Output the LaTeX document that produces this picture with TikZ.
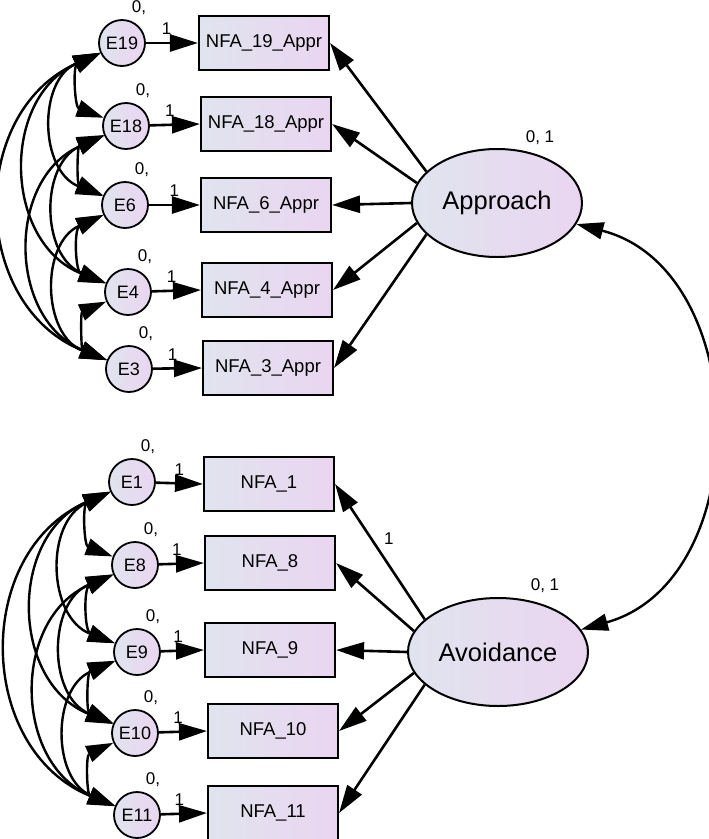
\documentclass[tikz,border=0pt]{standalone}
\usepackage{fontspec}
\setmainfont{Liberation Sans}
\usepackage{tikz}
\usetikzlibrary{positioning}
\usetikzlibrary{shapes}
\usetikzlibrary{arrows.meta}

\definecolor{shadeleft}{HTML}{E0E4EE}
\definecolor{shaderight}{HTML}{EAD5F1}

\begin{document}
\begin{tikzpicture}[x=1pt, y=-1pt,
	errnode/.style={circle, draw, line width=1.8pt, minimum size=46pt, inner sep=0pt, left color=shadeleft, right color=shaderight, font=\fontsize{18}{20}\selectfont},
	itembox/.style={rectangle, draw, line width=2.1pt, minimum width=130pt, minimum height=54pt, inner sep=0pt, left color=shadeleft, right color=shaderight, font=\fontsize{18.5}{21}\selectfont},
	latent/.style={ellipse, draw, line width=2pt, minimum height=108pt, inner sep=0pt, left color=shadeleft, right color=shaderight, font=\fontsize{25.5}{29}\selectfont},
	lbl/.style={font=\fontsize{17}{19}\selectfont, inner sep=1pt},
	regarrow/.style={line width=2.6pt, -{Triangle[length=28pt,width=17pt]}},
	covarc/.style={line width=2.4pt, {Triangle[length=27pt,width=17pt]}-{Triangle[length=27pt,width=17pt]}},
	errcov/.style={covarc, bend right=67, looseness=1.22}
	]
	\useasboundingbox (0,0) rectangle (709,839);

	\node[errnode] (E19) at (122,43) {E19};
	\node[errnode] (E18) at (126,126) {E18};
	\node[errnode] (E6) at (125,205) {E6};
	\node[errnode] (E4) at (128,292) {E4};
	\node[errnode] (E3) at (129,369) {E3};
	\node[errnode] (E1) at (132,482) {E1};
	\node[errnode] (E8) at (135,565) {E8};
	\node[errnode] (E9) at (137,652) {E9};
	\node[errnode] (E10) at (135,733) {E10};
	\node[errnode] (E11) at (137,815) {E11};

	\node[itembox] (N19) at (264,43) {NFA\_19\_Appr};
	\node[itembox] (N18) at (266,124) {NFA\_18\_Appr};
	\node[itembox] (N6) at (266,205) {NFA\_6\_Appr};
	\node[itembox] (N4) at (267,290) {NFA\_4\_Appr};
	\node[itembox] (N3) at (268,368) {NFA\_3\_Appr};
	\node[itembox] (N1) at (269,484) {NFA\_1};
	\node[itembox] (N8) at (270,563) {NFA\_8};
	\node[itembox] (N9) at (270,650) {NFA\_9};
	\node[itembox] (N10) at (273,731) {NFA\_10};
	\node[itembox] (N11) at (273,813) {NFA\_11};

	\node[latent, minimum width=170pt] (Appr) at (497,203) {Approach};
	\node[latent, minimum width=180pt] (Avoid) at (498,652) {Avoidance};

	\node[lbl, above=2pt of Appr, xshift=43pt] (vAppr) {0, 1};
	\node[lbl, above=3pt of Avoid, xshift=47pt] (vAvoid) {0, 1};

	\node[lbl, above=3pt of E19, xshift=17pt] (v19) {0,};
	\node[lbl, above=3pt of E18, xshift=17pt] (v18) {0,};
	\node[lbl, above=3pt of E6, xshift=17pt] (v6) {0,};
	\node[lbl, above=3pt of E4, xshift=17pt] (v4) {0,};
	\node[lbl, above=3pt of E3, xshift=17pt] (v3) {0,};
	\node[lbl, above=3pt of E1, xshift=16pt] (v1) {0,};
	\node[lbl, above=3pt of E8, xshift=16pt] (v8) {0,};
	\node[lbl, above=3pt of E9, xshift=16pt] (v9) {0,};
	\node[lbl, above=3pt of E10, xshift=16pt] (v10) {0,};
	\node[lbl, above=3pt of E11, xshift=16pt] (v11) {0,};

	\draw[regarrow] (E19) -- (N19.west) node[lbl, pos=0.4, above=6pt] (w19) {1};
	\draw[regarrow] (E18) -- (N18.west) node[lbl, pos=0.4, above=6pt] (w18) {1};
	\draw[regarrow] (E6) -- (N6.west) node[lbl, pos=0.5, above=6pt] (w6) {1};
	\draw[regarrow] (E4) -- (N4.west) node[lbl, pos=0.4, above=6pt] (w4) {1};
	\draw[regarrow] (E3) -- (N3.west) node[lbl, pos=0.4, above=6pt] (w3) {1};
	\draw[regarrow] (E1) -- (N1.west) node[lbl, pos=0.5, above=6pt] (w1) {1};
	\draw[regarrow] (E8) -- (N8.west) node[lbl, pos=0.4, above=6pt] (w8) {1};
	\draw[regarrow] (E9) -- (N9.west) node[lbl, pos=0.4, above=6pt] (w9) {1};
	\draw[regarrow] (E10) -- (N10.west) node[lbl, pos=0.4, above=6pt] (w10) {1};
	\draw[regarrow] (E11) -- (N11.west) node[lbl, pos=0.4, above=6pt] (w11) {1};

	\draw[regarrow] (Appr.156) -- (N19.east);
	\draw[regarrow] (Appr.166) -- (N18.east);
	\draw[regarrow] (Appr.west) -- (N6.east);
	\draw[regarrow] (Appr.194) -- (N4.east);
	\draw[regarrow] (Appr.204) -- (N3.east);
	\draw[regarrow] (Avoid.156) -- (N1.east) node[lbl, pos=0.6, right=11pt] (wA1) {1};
	\draw[regarrow] (Avoid.166) -- (N8.east);
	\draw[regarrow] (Avoid.west) -- (N9.east);
	\draw[regarrow] (Avoid.194) -- (N10.east);
	\draw[regarrow] (Avoid.204) -- (N11.east);

	\draw[covarc, bend left=75, looseness=1.15] (Appr) to (Avoid);

	\draw[errcov] (E19) to (E18);
	\draw[errcov] (E19) to (E6);
	\draw[errcov] (E19) to (E4);
	\draw[errcov] (E19) to (E3);
	\draw[errcov] (E18) to (E6);
	\draw[errcov] (E18) to (E4);
	\draw[errcov] (E18) to (E3);
	\draw[errcov] (E6) to (E4);
	\draw[errcov] (E6) to (E3);
	\draw[errcov] (E4) to (E3);

	\draw[errcov] (E1) to (E8);
	\draw[errcov] (E1) to (E9);
	\draw[errcov] (E1) to (E10);
	\draw[errcov] (E1) to (E11);
	\draw[errcov] (E8) to (E9);
	\draw[errcov] (E8) to (E10);
	\draw[errcov] (E8) to (E11);
	\draw[errcov] (E9) to (E10);
	\draw[errcov] (E9) to (E11);
	\draw[errcov] (E10) to (E11);
\end{tikzpicture}
\end{document}
